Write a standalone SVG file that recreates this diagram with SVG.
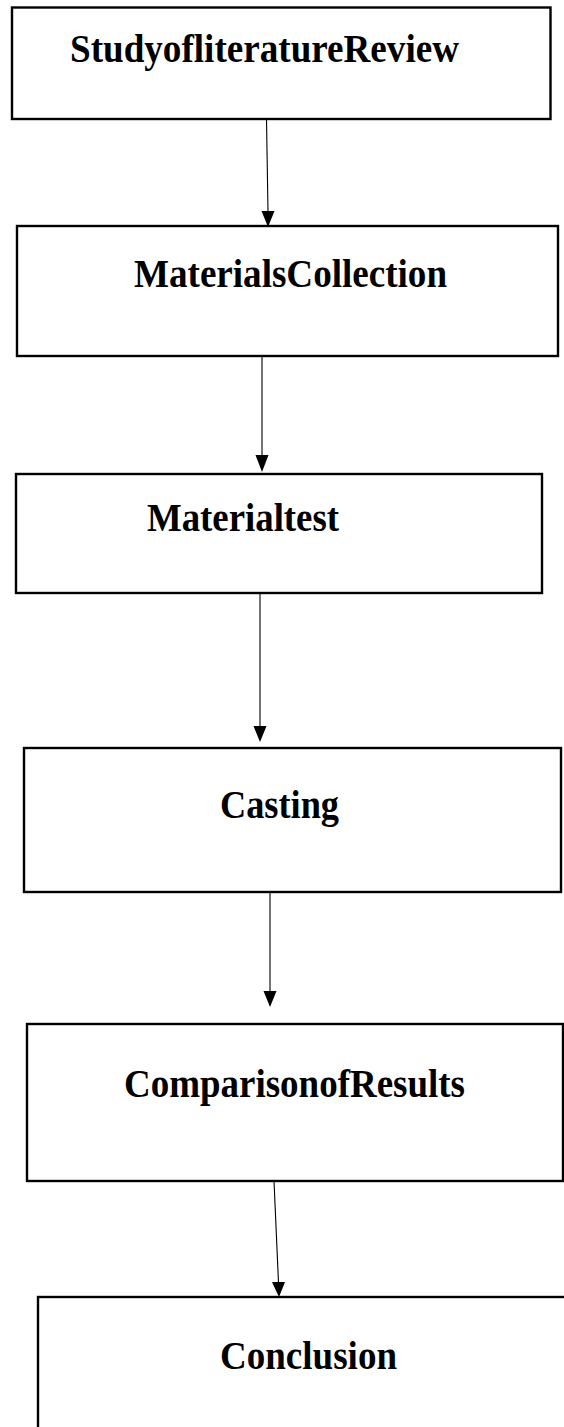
<svg xmlns="http://www.w3.org/2000/svg" width="564" height="1427" viewBox="0 0 564 1427">
<style>
.box{fill:#fff;stroke:#000;stroke-width:2.4}
.lbl{font-family:"Liberation Serif","Times New Roman",serif;font-weight:bold;font-size:39px;fill:#000}
</style>
<rect width="564" height="1427" fill="#fff"/>
<g id="n1"><rect class="box" x="12" y="7.5" width="538.5" height="111.5"/><text class="lbl" x="70" y="62" textLength="389" lengthAdjust="spacingAndGlyphs">StudyofliteratureReview</text></g>
<g id="n2"><rect class="box" x="17" y="226" width="541" height="130"/><text class="lbl" x="134" y="287" textLength="313" lengthAdjust="spacingAndGlyphs">MaterialsCollection</text></g>
<g id="n3"><rect class="box" x="16" y="474" width="526" height="119"/><text class="lbl" x="147" y="531" textLength="192" lengthAdjust="spacingAndGlyphs">Materialtest</text></g>
<g id="n4"><rect class="box" x="24" y="748" width="537" height="144"/><text class="lbl" x="220" y="818" textLength="119" lengthAdjust="spacingAndGlyphs">Casting</text></g>
<g id="n5"><rect class="box" x="27" y="1024" width="536" height="157"/><text class="lbl" x="124" y="1097" textLength="341" lengthAdjust="spacingAndGlyphs">ComparisonofResults</text></g>
<g id="n6"><rect class="box" x="38" y="1297" width="560" height="200"/><text class="lbl" x="220" y="1369" textLength="177" lengthAdjust="spacingAndGlyphs">Conclusion</text></g>
<g id="connectors" fill="#000" stroke="#000">
<line x1="266.5" y1="119" x2="268" y2="212" stroke-width="1.1"/><polygon points="261.5,211 274.5,211 268,227" stroke="none"/>
<line x1="262" y1="356" x2="262" y2="456" stroke-width="1.1"/><polygon points="255.5,455 268.5,455 262,472" stroke="none"/>
<line x1="260" y1="593" x2="260" y2="727" stroke-width="1.1"/><polygon points="253.5,726 266.5,726 260,742" stroke="none"/>
<line x1="270" y1="892" x2="270" y2="992" stroke-width="1.1"/><polygon points="263.5,991 276.5,991 270,1007" stroke="none"/>
<line x1="274" y1="1181" x2="278.5" y2="1283" stroke-width="1.1"/><polygon points="272,1282 285,1282 279,1297" stroke="none"/>
</g>
</svg>
